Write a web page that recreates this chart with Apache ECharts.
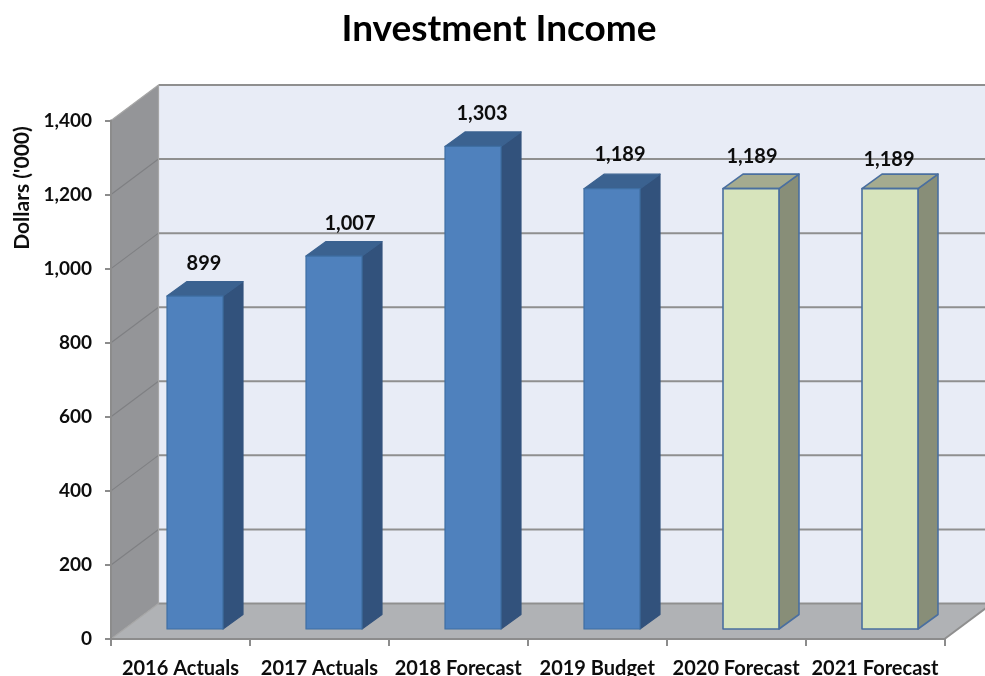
<!DOCTYPE html>
<html>
<head>
<meta charset="utf-8">
<style>html,body{margin:0;padding:0;background:#fff}#c{width:985px;height:676px}</style>
<script src="https://cdn.jsdelivr.net/npm/echarts@6/dist/echarts.min.js"></script>
</head>
<body>
<div id="c"></div>
<script>
var categories = ['2016 Actuals','2017 Actuals','2018 Forecast','2019 Budget','2020 Forecast','2021 Forecast'];
var values = [899,1007,1303,1189,1189,1189];
var yTicks = [0,200,400,600,800,1000,1200,1400];
var projected = [false,false,false,false,true,true];
var labelNudgeX = [-1,6,-1,-2,-9,-11];
var labelNudgeY = [-18,-18,-18,-20,-18,-15];

var FONT = 'Lato, "Noto Sans", sans-serif';
var DEPTH_X = 47.5, DEPTH_Y = 35.5;
var BAR_OFF_X = 15, BAR_OFF_Y = 10, BAR_DX = 20, BAR_DY = 14.5;
var WALL_LINE = '#8f8f8f';

function poly(points, fill, stroke, lw, z2) {
  return {type:'polygon', z2:z2||0, shape:{points:points},
    style:{fill:fill, stroke:stroke||null, lineWidth:lw||0, lineJoin:'round'}};
}
function seg(x1,y1,x2,y2,color,lw,z2) {
  return {type:'line', z2:z2||1, shape:{x1:x1,y1:y1,x2:x2,y2:y2}, style:{stroke:color,lineWidth:lw}};
}

function renderWalls(params, api) {
  var cs = params.coordSys;
  var L = cs.x, R = cs.x + cs.width;
  var y0 = api.coord([0,0])[1], yT = api.coord([0,1400])[1];
  var kids = [
    poly([[L+DEPTH_X,y0-DEPTH_Y],[R+DEPTH_X,y0-DEPTH_Y],[R+DEPTH_X,yT-DEPTH_Y],[L+DEPTH_X,yT-DEPTH_Y]],'#e8ecf6'),
    poly([[L,y0],[L+DEPTH_X,y0-DEPTH_Y],[L+DEPTH_X,yT-DEPTH_Y],[L,yT]],'#949598'),
    poly([[L,y0],[R,y0],[R+DEPTH_X,y0-DEPTH_Y],[L+DEPTH_X,y0-DEPTH_Y]],'#b0b2b5')
  ];
  yTicks.forEach(function(t){
    var y = api.coord([0,t])[1];
    kids.push(seg(L,y,L+DEPTH_X,y-DEPTH_Y, t===1400 || t===0 ? '#a6a6a6' : '#7f8083', 1.2));
    kids.push(seg(L+DEPTH_X,y-DEPTH_Y,R+DEPTH_X,y-DEPTH_Y,WALL_LINE,2));
  });
  kids.push(seg(L+DEPTH_X,y0-DEPTH_Y,L+DEPTH_X,yT-DEPTH_Y,'#a6a6a6',1.2));
  kids.push(seg(R,y0,R+DEPTH_X,y0-DEPTH_Y,WALL_LINE,2));
  return {type:'group', children:kids};
}

function renderBar(params, api) {
  var i = api.value(0), v = api.value(1);
  var c = api.coord([i,v]), b = api.coord([i,0]);
  var w = api.size([1,0])[0] * 0.403;
  var x0 = Math.round(c[0] + BAR_OFF_X - w/2), x1 = x0 + w;
  var yt = c[1] - BAR_OFF_Y, yb = b[1] - BAR_OFF_Y;
  var pal = projected[i]
    ? {front:'#d7e4bc', side:'#888e78', top:'#a5ab8f', line:'#4a6f9f', lw:1.6}
    : {front:'#4f81bd', side:'#32527c', top:'#3b6290', line:'#3f6fa3', lw:1.2};
  var sideLine = projected[i] ? pal.line : pal.side;
  var topLine = projected[i] ? pal.line : pal.top;
  return {type:'group', children:[
    poly([[x1,yb],[x1+BAR_DX,yb-BAR_DY],[x1+BAR_DX,yt-BAR_DY],[x1,yt]],pal.side,sideLine,pal.lw,1),
    poly([[x0,yt],[x1,yt],[x1+BAR_DX,yt-BAR_DY],[x0+BAR_DX,yt-BAR_DY]],pal.top,topLine,pal.lw,2),
    poly([[x0,yt],[x1,yt],[x1,yb],[x0,yb]],pal.front,pal.line,pal.lw,3),
    {type:'text', z2:5, x:x0+w/2+BAR_DX/2+labelNudgeX[i], y:yt-BAR_DY+labelNudgeY[i],
      style:{text:v.toLocaleString('en-US'), fill:'#0d0d0d', font:'bold 20px '+FONT, align:'center', verticalAlign:'middle'}}
  ]};
}

var chart = echarts.init(document.getElementById('c'), null, {renderer:'canvas'});
chart.setOption({
  animation:false,
  backgroundColor:'#ffffff',
  title:{text:'Investment Income', left:494, top:6, textAlign:'center',
    textStyle:{fontFamily:FONT, fontWeight:'bold', fontSize:37, color:'#000'}},
  graphic:[{type:'text', x:22, y:188, rotation:Math.PI/2, z:10,
    style:{text:"Dollars ('000)", fill:'#0d0d0d', font:'bold 21px '+FONT, align:'center', verticalAlign:'middle'}}],
  grid:{left:111, top:120.5, width:833.5, height:518.5, containLabel:false, outerBoundsMode:'none'},
  xAxis:{type:'category', data:categories, z:5,
    axisLine:{show:true, lineStyle:{color:'#8c8c8c', width:2}},
    axisTick:{show:true, alignWithLabel:false, length:7, lineStyle:{color:'#8c8c8c', width:2}},
    axisLabel:{color:'#0d0d0d', fontFamily:FONT, fontWeight:'bold', fontSize:20, margin:20, interval:0},
    splitLine:{show:false}},
  yAxis:{type:'value', min:0, max:1400, interval:200, z:5,
    axisLine:{show:true, lineStyle:{color:'#8c8c8c', width:2}},
    axisTick:{show:true, length:6, lineStyle:{color:'#8c8c8c', width:2}},
    axisLabel:{color:'#0d0d0d', fontFamily:FONT, fontWeight:'bold', fontSize:19, margin:19, padding:[6,0,0,0],
      formatter:function(v){return v.toLocaleString('en-US');}},
    splitLine:{show:false}},
  series:[
    {type:'custom', name:'walls', z:1, silent:true, clip:false, renderItem:renderWalls, data:[[0,0]]},
    {type:'custom', name:'Investment Income', z:3, clip:false, renderItem:renderBar,
      encode:{x:0,y:1}, data:values.map(function(v,i){return [i,v];})}
  ]
});
</script>
</body>
</html>
